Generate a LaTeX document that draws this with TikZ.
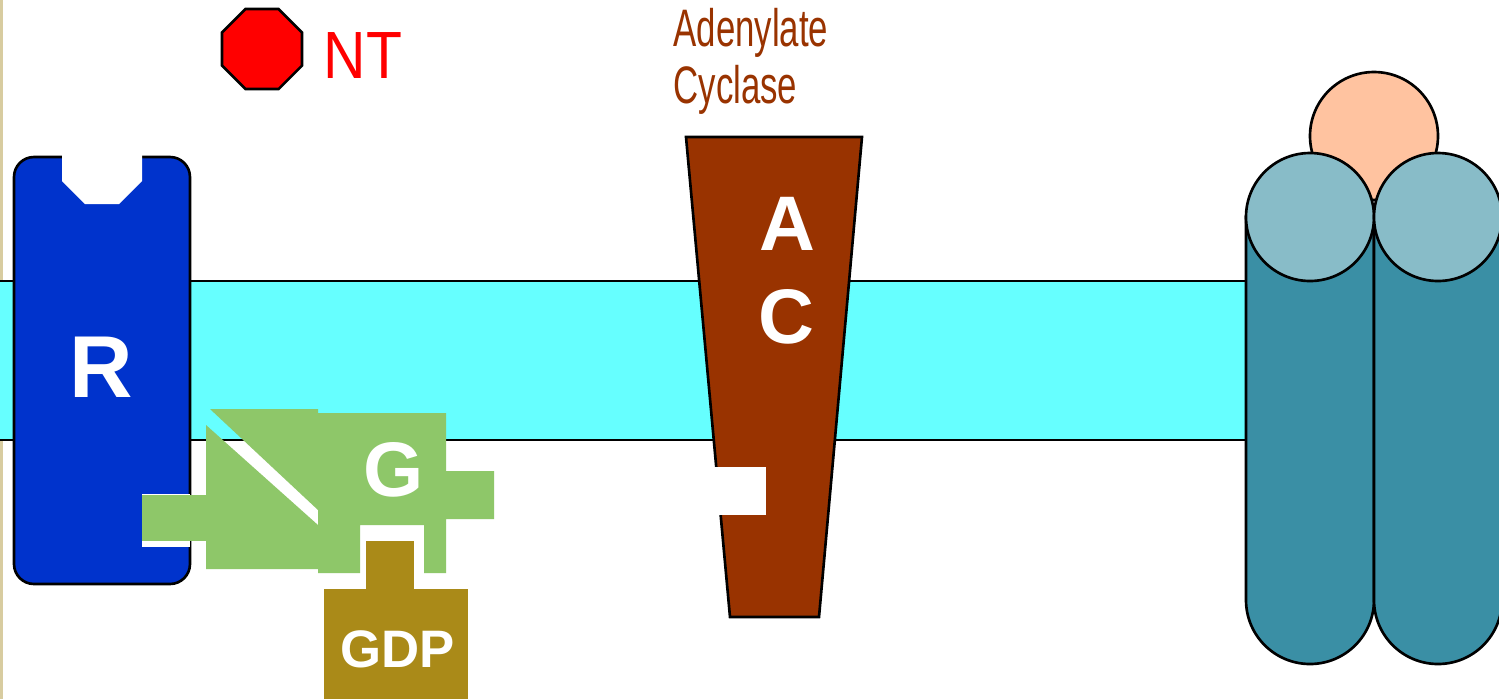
\documentclass[tikz,border=0pt]{standalone}
\usepackage{fontspec}
\setmainfont{Liberation Sans}
\usetikzlibrary{shapes.geometric}

\definecolor{memcyan}{HTML}{66FFFF}
\definecolor{recblue}{HTML}{0033CC}
\definecolor{gpgreen}{HTML}{8EC769}
\definecolor{gdpolive}{HTML}{AA8A18}
\definecolor{acbrown}{HTML}{993300}
\definecolor{ntred}{HTML}{FF0000}
\definecolor{chlight}{HTML}{88BCC8}
\definecolor{chdark}{HTML}{3A8FA5}
\definecolor{chpeach}{HTML}{FFC3A0}
\definecolor{edgetan}{HTML}{D8CCA0}

\tikzset{
  outline/.style={draw=black, line width=0.75pt},
  biglabel/.style={text=white, inner sep=0pt, font=\bfseries\fontsize{22}{26}\selectfont},
  scrawl/.style={inner sep=0pt, font=\fontsize{15}{16}\selectfont}
}

\begin{document}
\begin{tikzpicture}[x=0.01cm, y=-0.01cm]
  \useasboundingbox (0,0) rectangle (1499,699);
  \fill[white] (0,0) rectangle (1499,699);
  \fill[edgetan] (0,0) rectangle (3,699);

  %membrane
  \filldraw[fill=memcyan, outline] (-5,281) rectangle (1262,440);

  %receptor
  \filldraw[fill=recblue, outline, rounded corners=0.2cm] (14,157) rectangle (190,584);
  \fill[white] (62,154) -- (62,181) -- (85,204) -- (119,204) -- (142,181) -- (142,154) -- cycle;
  \node[biglabel, font=\bfseries\fontsize{25}{30}\selectfont] (rlab) at (101,367) {R};

  %neurotransmitter
  \node[regular polygon, regular polygon sides=8, minimum size=0.866cm, inner sep=0pt,
        fill=ntred, outline] (ntmol) at (262,49) {};
  \node[scrawl, text=ntred, font=\fontsize{19}{20}\selectfont, xscale=0.88] (ntlab) at (363,56) {NT};

  %G protein
  \fill[white] (142,494) rectangle (190,547);
  \fill[gpgreen] (142,495) rectangle (206,541);
  \fill[gpgreen] (206,425) -- (318,525) -- (318,569) -- (206,569) -- cycle;
  \fill[gpgreen] (210,409) -- (318,409) -- (318,510) -- cycle;
  \fill[gpgreen] (318,413) -- (446,413) -- (446,471) -- (494,471) -- (494,519) -- (446,519)
    -- (446,573) -- (424,573) -- (424,525) -- (360,525) -- (360,573) -- (318,573) -- cycle;
  \node[biglabel] (glab) at (394,470) {G};

  %GDP
  \fill[gdpolive] (366,541) rectangle (414,590);
  \fill[gdpolive] (324,589) rectangle (468,699);
  \node[biglabel, font=\bfseries\fontsize{15}{18}\selectfont] (gdplab) at (398,649) {GDP};

  %adenylate cyclase
  \filldraw[fill=acbrown, outline] (686,137) -- (862,137) -- (819,617) -- (730,617) -- cycle;
  \fill[white] (712,467) rectangle (766,515);
  \node[biglabel] (alab) at (787,224) {A};
  \node[biglabel] (clab) at (786,317) {C};
  \node[scrawl, text=acbrown, align=left, anchor=north west, xscale=0.66] (aclab) at (673,8)
    {Adenylate\\Cyclase};

  %channel
  \filldraw[fill=chpeach, outline] (1374,136) circle[radius=64];
  \filldraw[fill=chdark, outline] (1246,217) -- (1246,600) arc[start angle=180, end angle=0, radius=64] -- (1374,217) -- cycle;
  \filldraw[fill=chdark, outline] (1374,217) -- (1374,600) arc[start angle=180, end angle=0, radius=64] -- (1502,217) -- cycle;
  \filldraw[fill=chlight, outline] (1310,217) circle[radius=64];
  \filldraw[fill=chlight, outline] (1438,217) circle[radius=64];
\end{tikzpicture}
\end{document}
